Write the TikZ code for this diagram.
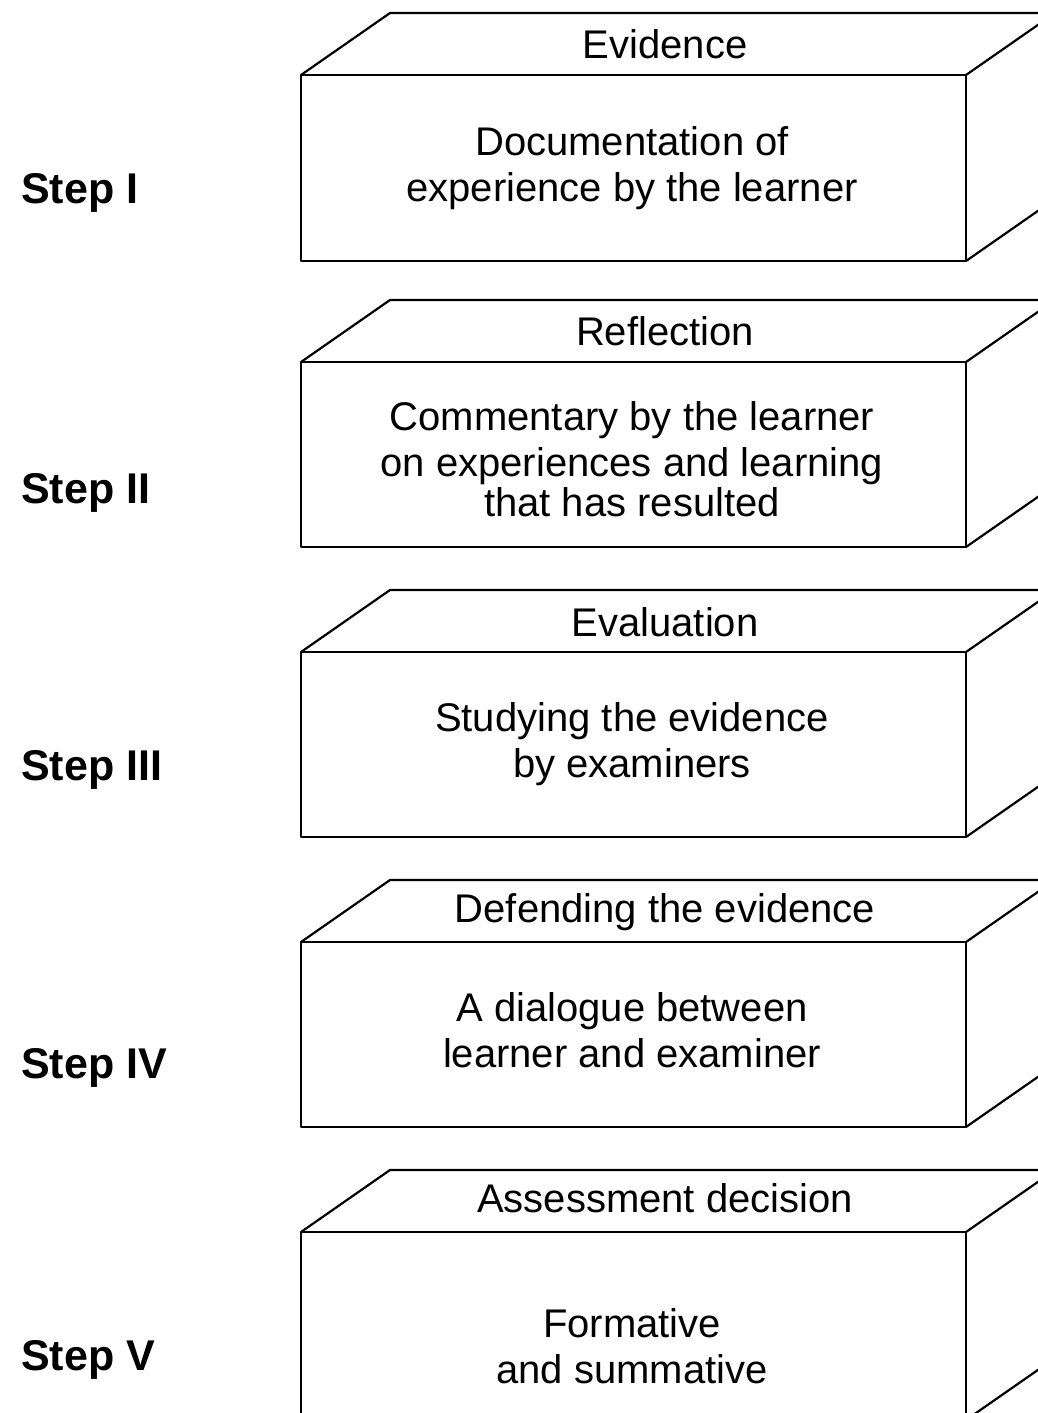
\documentclass[tikz,border=0pt]{standalone}
\usepackage{fontspec}
\setmainfont{Liberation Sans}
\begin{document}
\begin{tikzpicture}[x=1pt,y=-1pt,line width=2.2pt,line join=round,
  stepname/.style={anchor=base west,inner sep=0pt,font=\fontsize{43}{48}\selectfont\bfseries},
  toplabel/.style={anchor=base,inner sep=0pt,font=\fontsize{40}{46}\selectfont},
  bodytext/.style={anchor=center,inner sep=0pt,align=center,font=\fontsize{40}{46}\selectfont}]
\useasboundingbox (0,0) rectangle (1038,1413);
\clip (0,0) rectangle (1038,1413);
% five cuboids: front face top/bottom, depth offset (89,-62)
\foreach \t/\b in {75/261, 362/547, 652/837, 942/1127, 1232/1420} {
  \draw (301,\t) rectangle (966,\b);
  \draw (301,\t) -- (390,\t-62) -- (1055,\t-62) -- (966,\t);
  \draw (966,\b) -- (1055,\b-62) -- (1055,\t-62);
}
% step labels
\node[stepname] (s1) at (20,203)  {Step I};
\node[stepname] (s2) at (20,503)  {Step II};
\node[stepname] (s3) at (20,780)  {Step III};
\node[stepname] (s4) at (20,1078) {Step IV};
\node[stepname] (s5) at (20,1370) {Step V};
% labels on the top faces
\node[toplabel] (t1) at (665,59)   {Evidence};
\node[toplabel] (t2) at (665,345)  {Reflection};
\node[toplabel] (t3) at (665,636)  {Evaluation};
\node[toplabel] (t4) at (665,922)  {Defending the evidence};
\node[toplabel] (t5) at (665,1212) {Assessment decision};
% texts on the front faces
\node[bodytext] (b1) at (632,168)  {Documentation of\\experience by the learner};
\node[bodytext] (b2) at (632,459)  {Commentary by the learner\\on experiences and learning\\[-6pt]that has resulted};
\node[bodytext] (b3) at (632,744)  {Studying the evidence\\by examiners};
\node[bodytext] (b4) at (632,1030) {A dialogue between\\learner and examiner};
\node[bodytext] (b5) at (632,1346) {Formative\\and summative};
\end{tikzpicture}
\end{document}
